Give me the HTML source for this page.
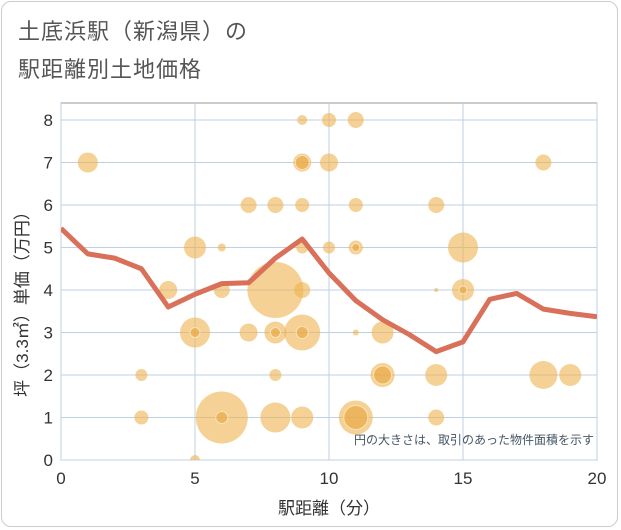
<!DOCTYPE html>
<html><head><meta charset="utf-8"><style>
body{margin:0;background:#fff;font-family:"Liberation Sans","Noto Sans CJK JP",sans-serif;}
#card{position:absolute;left:1px;top:1px;width:617px;height:526px;border:1px solid #ccc;border-radius:10px;box-sizing:border-box;}
.t{position:absolute;left:18px;font-size:22px;color:#555;letter-spacing:1px;}
</style></head><body>
<div id="card"></div>
<div class="t" style="top:14px">土底浜駅（新潟県）の</div>
<div class="t" style="top:52px">駅距離別土地価格</div>
<svg id="c" width="621" height="530" style="position:absolute;left:0;top:0"></svg>
<script>
const xTicks=[0,5,10,15,20];
const yTicks=[0,1,2,3,4,5,6,7,8];
const bx=[1,3,3,4,5,5,5,6,6,6,7,7,8,8,8,8,8,9,9,9,9,9,9,9,10,10,10,11,11,11,11,11,12,12,14,14,14,14,15,15,18,18,19];
const by=[7,2,1,4,5,3,0,5,4,1,6,3,6,4,3,2,1,8,7,6,5,4,3,1,8,7,5,8,6,5,3,1,3,2,6,4,2,1,5,4,7,2,2];
const br=[10,6,7,9,11,15,5,4,8,26,8,9,8,28,11,6,15,5,9,7,6,8,18,11,7,9,6,8,7,7,3,17,11,12,8,2,11,8,15,11,8,14,11];
const inner=[0,0,0,0,0,5,0,0,0,6,0,0,0,0,5,0,0,0,7,0,0,0,6,0,0,0,0,0,0,4,0,12,0,9,0,0,0,0,0,4,0,0,0];
const lineX=[0,1,2,3,4,5,6,7,8,9,10,11,12,13,14,15,16,17,18,19,20];
const lineY=[5.45,4.85,4.75,4.5,3.6,3.9,4.15,4.17,4.75,5.2,4.4,3.75,3.3,2.95,2.55,2.78,3.78,3.92,3.55,3.45,3.37];
const L=61,R=597,T=103,B=460;
const sx=v=>L+(R-L)*v/20, sy=v=>B-(B-120)*v/8;
const svg=document.getElementById('c');const NS='http://www.w3.org/2000/svg';
function mk(t,a,p){const e=document.createElementNS(NS,t);for(const k in a)e.setAttribute(k,a[k]);(p||svg).appendChild(e);return e;}
let e;
e=mk('rect',{x:L,y:T,width:R-L,height:B-T,fill:'#fff',stroke:'#999','stroke-width':1});

yTicks.forEach(v=>{e=mk('line',{x1:L,x2:R,y1:sy(v),y2:sy(v),stroke:'#bfd0e0'});

e=mk('text',{x:L-8,y:sy(v)+6,'text-anchor':'end','font-size':17,fill:'#333'});e.textContent=v;
});
xTicks.forEach(v=>{e=mk('line',{x1:sx(v),x2:sx(v),y1:T,y2:B,stroke:'#bfd0e0'});

e=mk('text',{x:sx(v),y:B+24,'text-anchor':'middle','font-size':17,fill:'#333'});e.textContent=v;
});
const g=mk('g',{'clip-path':'url(#cp)'});
const cp=mk('clipPath',{id:'cp'});mk('rect',{x:L,y:T,width:R-L,height:B-T},cp);
bx.forEach((x,i)=>{e=mk('circle',{cx:sx(x),cy:sy(by[i]),r:br[i],fill:'rgba(238,178,80,0.6)'},g);

if(inner[i]){e=mk('circle',{cx:sx(x),cy:sy(by[i]),r:inner[i],fill:'rgba(232,170,70,0.7)',stroke:'#fbe3b8','stroke-width':1},g);
}});
e=mk('polyline',{points:lineX.map((x,i)=>sx(x)+','+sy(lineY[i])).join(' '),fill:'none',stroke:'#d9705a','stroke-width':5,'stroke-linejoin':'round'},g);

e=mk('text',{x:594,y:444,'text-anchor':'end','font-size':12,fill:'#445566'});e.textContent='円の大きさは、取引のあった物件面積を示す';

e=mk('text',{x:329,y:514,'text-anchor':'middle','font-size':17,fill:'#333'});e.textContent='駅距離（分）';

e=mk('text',{x:0,y:0,'text-anchor':'middle','font-size':17,fill:'#333',transform:'translate(28,300) rotate(-90)'});e.textContent='坪（3.3㎡）単価（万円）';

</script>
</body></html>
